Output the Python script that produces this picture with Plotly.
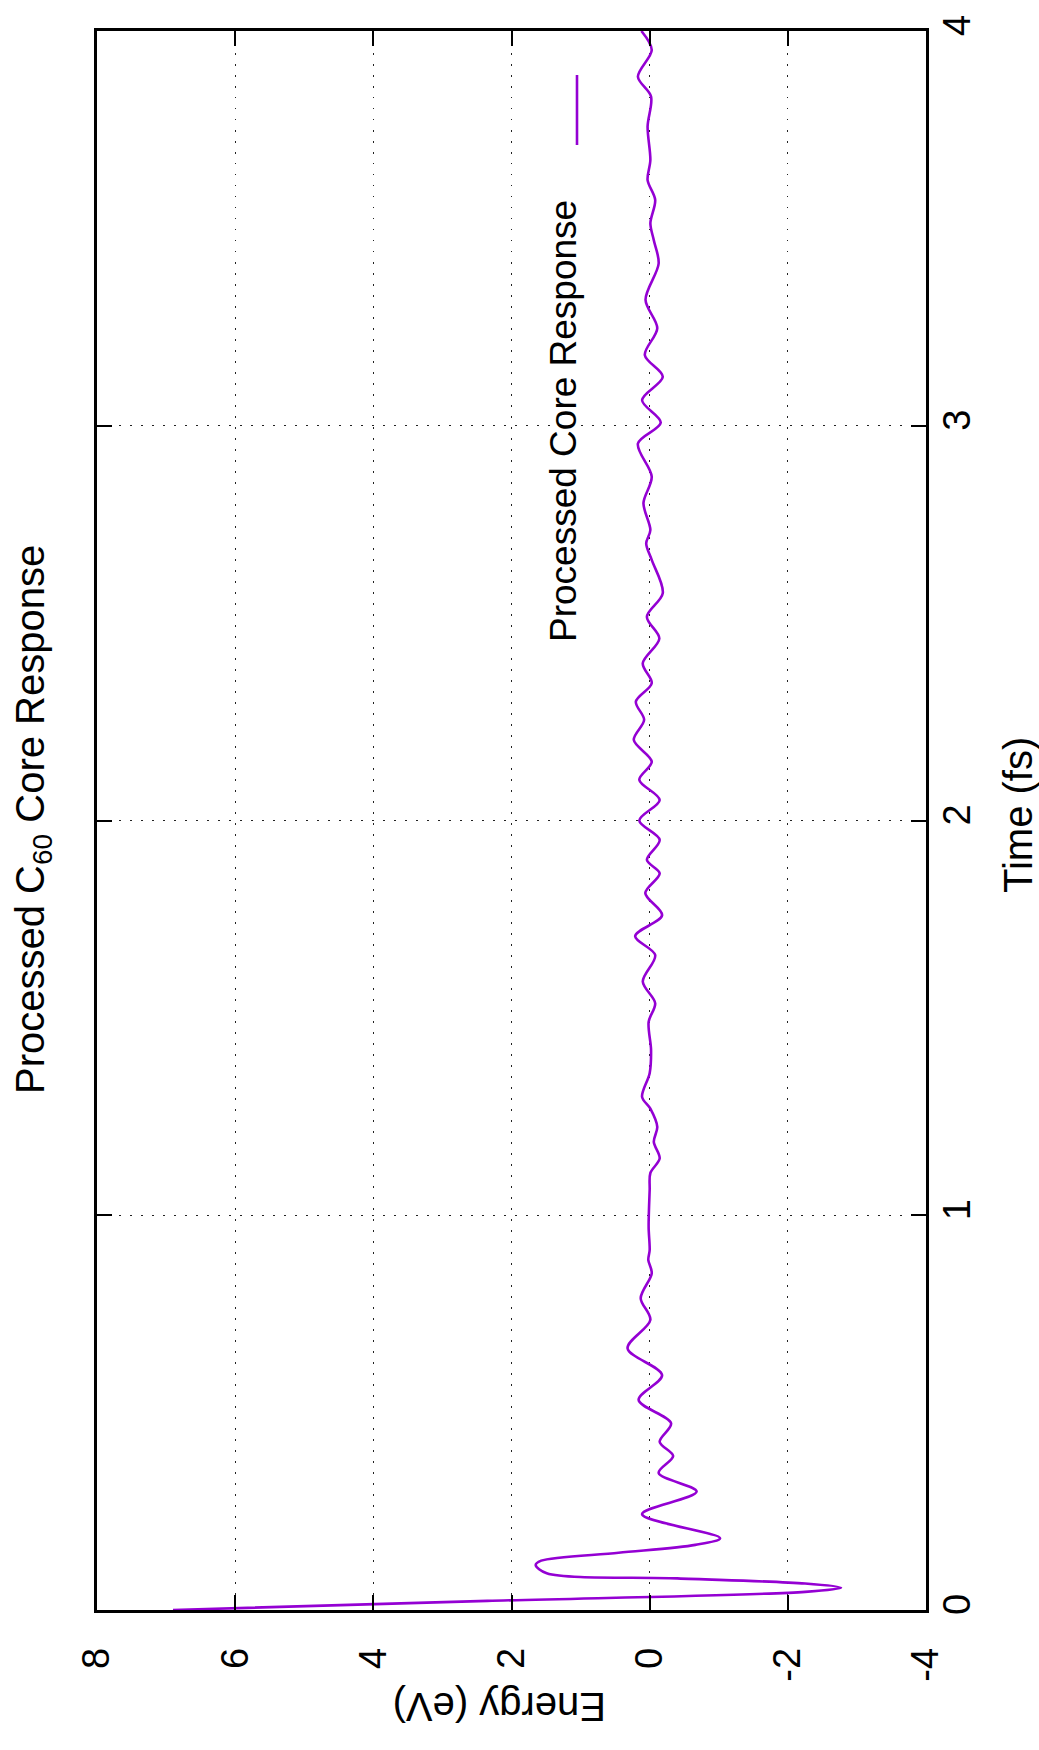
import plotly.graph_objects as go

# Processed C60 core response (chart is drawn rotated: energy horizontal, time vertical)
time_fs = [0.000, 0.023, 0.046, 0.0565, 0.067, 0.080, 0.093, 0.114, 0.125, 0.145,
           0.165, 0.182, 0.243, 0.300, 0.347, 0.390, 0.426, 0.473, 0.532, 0.595,
           0.663, 0.735, 0.790, 0.853, 0.887, 0.912, 0.971, 1.064, 1.107, 1.144,
           1.186, 1.224, 1.270, 1.300, 1.360, 1.419, 1.490, 1.537, 1.592, 1.659,
           1.707, 1.760, 1.816, 1.866, 1.900, 1.951, 2.000, 2.052, 2.103, 2.149,
           2.204, 2.255, 2.301, 2.348, 2.398, 2.461, 2.516, 2.576, 2.660, 2.702,
           2.736, 2.804, 2.871, 2.955, 3.008, 3.065, 3.124, 3.179, 3.247, 3.319,
           3.411, 3.470, 3.513, 3.572, 3.622, 3.673, 3.758, 3.834, 3.884, 3.952,
           4.000]
energy_ev = [6.90, 2.35, -2.25, -2.77, -2.25, -0.40, 1.49, 1.65, 1.57, 0.45,
             -0.66, -1.02, 0.11, -0.68, -0.13, -0.34, -0.145, -0.31, 0.16, -0.18,
             0.32, -0.01, 0.13, -0.03, 0.02, 0.00, 0.015, 0.00, -0.01, -0.145,
             -0.06, -0.11, -0.01, 0.11, 0.00, -0.02, 0.015, -0.08, 0.10, -0.08,
             0.21, -0.18, 0.063, -0.145, 0.04, -0.145, 0.15, -0.145, 0.15, -0.03,
             0.23, 0.08, 0.20, -0.03, 0.10, -0.14, 0.04, -0.19, -0.03, 0.05,
             -0.01, 0.09, -0.03, 0.17, -0.16, 0.11, -0.19, 0.07, -0.11, 0.06,
             -0.13, -0.06, -0.01, -0.08, 0.03, -0.01, 0.03, -0.02, 0.17, -0.03,
             0.12]

energy_ticks = [8, 6, 4, 2, 0, -2, -4]
energy_labels = ["8", "6", "4", "2", "0", "-2", "-4"]
time_ticks = [0, 1, 2, 3, 4]
time_labels = ["0", "1", "2", "3", "4"]

title_text = "Processed C<sub>60</sub> Core Response"
series_name = "Processed Core Response"
xlabel = "Time (fs)"
ylabel = "Energy (eV)"

LINE_COLOR = "#9400D3"
FONT = "Liberation Sans, Arial, Helvetica, sans-serif"

fig = go.Figure()
fig.add_trace(go.Scatter(
    x=energy_ev, y=time_fs, mode="lines", name=series_name,
    line=dict(color=LINE_COLOR, width=2.6, shape="spline", smoothing=0.9),
    showlegend=False,
))

W, H = 1039, 1750
L, R, T, B = 97, 926, 31, 1610

fig.update_layout(
    width=W, height=H,
    margin=dict(l=L, r=W - R, t=T, b=H - B, pad=0),
    paper_bgcolor="white", plot_bgcolor="white",
    font=dict(family=FONT, size=38, color="black"),
    showlegend=False,
)

axis_common = dict(
    ticks="inside", ticklen=15, tickwidth=2, tickcolor="black",
    showline=True, linewidth=2.5, linecolor="black", mirror="ticks",
    showgrid=True, gridcolor="#222222", gridwidth=1.2, griddash="1.5px,9.5px",
    zeroline=False, tickangle=-90,
    tickfont=dict(family=FONT, size=38, color="black"),
)

fig.update_xaxes(range=[8, -4], tickvals=energy_ticks, ticktext=energy_labels,
                 ticklabelstandoff=20, **axis_common)
fig.update_yaxes(range=[0, 4], tickvals=time_ticks, ticktext=time_labels,
                 side="right", ticklabelstandoff=-4, **axis_common)

pw, ph = R - L, B - T
def px(x):
    return (x - L) / pw
def py(y):
    return (B - y) / ph

fig.add_annotation(text=title_text, x=px(33), y=py(820), xref="paper", yref="paper",
                   textangle=-90, showarrow=False, xanchor="center", yanchor="middle",
                   font=dict(family=FONT, size=40, color="black"))
fig.add_annotation(text=ylabel, x=px(500), y=py(1707), xref="paper", yref="paper",
                   textangle=180, showarrow=False, xanchor="center", yanchor="middle",
                   font=dict(family=FONT, size=40, color="black"))
fig.add_annotation(text=xlabel, x=px(1018), y=py(815), xref="paper", yref="paper",
                   textangle=-90, showarrow=False, xanchor="center", yanchor="middle",
                   font=dict(family=FONT, size=40, color="black"))
# legend (rotated)
fig.add_annotation(text=series_name, x=px(564), y=py(421), xref="paper", yref="paper",
                   textangle=-90, showarrow=False, xanchor="center", yanchor="middle",
                   font=dict(family=FONT, size=37, color="black"))
fig.add_shape(type="line", xref="paper", yref="paper",
              x0=px(577), x1=px(577), y0=py(145), y1=py(75),
              line=dict(color=LINE_COLOR, width=2.6))

fig.write_html("out.html")
